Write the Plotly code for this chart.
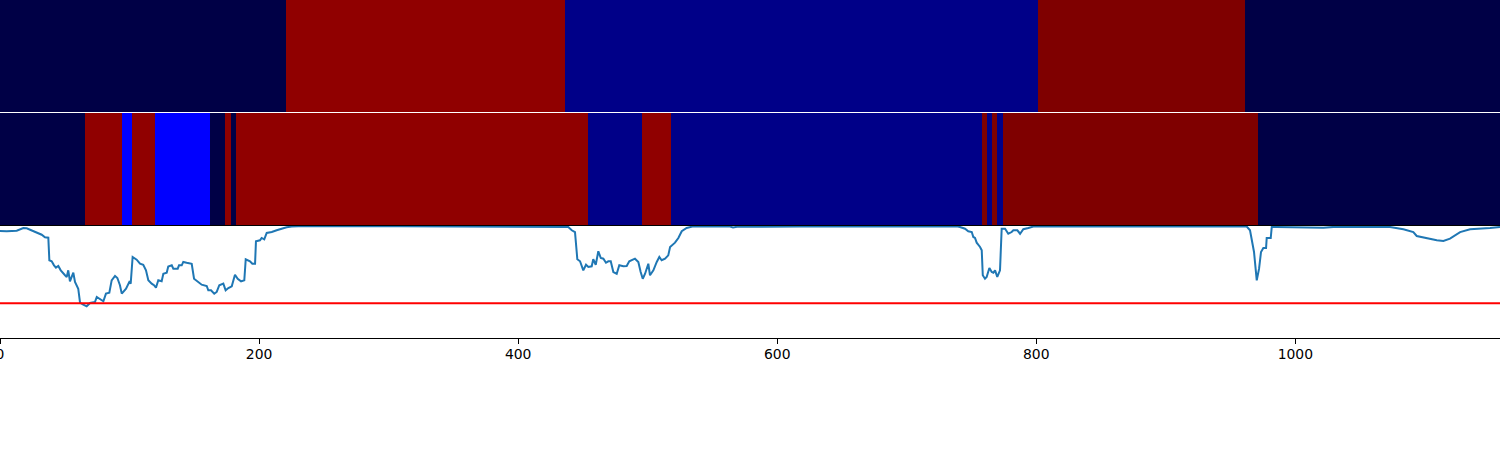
import plotly.graph_objects as go

# ---------------- data ----------------
# class colours (index -> colour)
class_colors = ["#000046", "#0000ff", "#000088", "#900000", "#7f0000"]
NAVY, BRIGHT, BLUE, RED, DRED = 0, 1, 2, 3, 4

# top band: segment edges and classes
top_edges = [0, 220.8, 436.3, 801.5, 961.4, 1158]
top_classes = [NAVY, RED, BLUE, DRED, NAVY]

# middle band: segment edges and classes
mid_edges = [0, 65.6, 94.2, 101.9, 119.7, 162.1, 173.7, 178.3, 182.2, 454.0,
             495.6, 518.0, 758.1, 762.0, 765.9, 769.7, 774.3, 971.2, 1158]
mid_classes = [NAVY, RED, BRIGHT, RED, BRIGHT, NAVY, RED, NAVY, RED, BLUE,
               RED, BLUE, DRED, BLUE, DRED, BLUE, DRED, NAVY]

# score line
line_x = [0, 5.2, 12.9, 18.0, 20.6, 25.7, 32.2, 34.7, 37.3, 38.1, 39.9, 41.7, 43.2,
          45.0, 46.9, 50.2, 51.5, 52.7, 54.0, 56.6, 57.9, 60.4, 61.8, 64.3, 66.9,
          69.5, 71.6, 73.3, 74.7, 77.2, 79.8, 81.8, 84.4, 86.2, 88.8, 90.6, 92.6,
          94.0, 97.3, 99.8, 100.9, 102.4, 105.5, 108.1, 110.6, 112.7, 114.5, 117.1,
          118.9, 120.4, 122.2, 124.8, 126.1, 128.7, 129.9, 132.6, 133.8, 137.2,
          138.2, 140.3, 141.5, 144.1, 148.0, 149.8, 153.1, 155.7, 159.6, 160.8,
          162.9, 165.4, 167.3, 169.3, 172.4, 174.2, 176.3, 178.9, 181.4, 183.5,
          186.1, 188.6, 189.7, 193.0, 194.8, 196.9, 197.6, 200.7, 202.0, 204.0,
          205.9, 209.8, 213.6, 217.5, 221.3, 225.2, 230.3, 308.8, 432.3, 438.7,
          441.4, 443.9, 445.7, 447.8, 450.3, 452.4, 454.2, 456.8, 458.0, 459.9,
          461.9, 463.8, 465.8, 467.8, 469.6, 471.5, 473.5, 476.1, 478.1, 481.2,
          483.8, 485.8, 490.2, 492.8, 494.6, 496.2, 498.0, 500.5, 501.8, 504.4,
          507.0, 509.0, 510.8, 513.4, 515.9, 517.3, 521.1, 523.7, 526.3, 530.1,
          535.2, 543.0, 563.6, 565.9, 569.0, 617.6, 725.7, 738.6, 741.1, 745.0,
          747.5, 750.2, 751.4, 752.7, 754.0, 756.6, 757.9, 758.7, 760.4, 761.7,
          763.8, 765.6, 766.9, 768.2, 769.9, 772.0, 773.3, 775.9, 778.4, 781.0,
          782.3, 785.4, 787.5, 790.0, 793.9, 797.7, 802.9, 849.2, 887.8, 926.4,
          962.5, 965.0, 966.3, 968.1, 970.2, 972.0, 973.5, 975.3, 977.4, 977.9,
          981.0, 981.8, 985.6, 1001.1, 1021.6, 1032.0, 1052.5, 1073.1, 1083.4,
          1091.1, 1093.7, 1098.8, 1104.0, 1109.2, 1114.3, 1119.4, 1127.2, 1134.9,
          1150.3, 1158]
line_y = [0.955, 0.953, 0.958, 0.982, 0.979, 0.953, 0.922, 0.899, 0.896, 0.694,
          0.685, 0.649, 0.628, 0.643, 0.604, 0.560, 0.545, 0.604, 0.506, 0.583,
          0.500, 0.440, 0.315, 0.297, 0.283, 0.313, 0.321, 0.321, 0.366, 0.346,
          0.328, 0.396, 0.404, 0.515, 0.554, 0.536, 0.471, 0.396, 0.440, 0.500,
          0.485, 0.723, 0.699, 0.663, 0.654, 0.604, 0.515, 0.485, 0.471, 0.449,
          0.515, 0.506, 0.574, 0.583, 0.638, 0.649, 0.619, 0.619, 0.649, 0.649,
          0.679, 0.672, 0.663, 0.529, 0.500, 0.476, 0.464, 0.426, 0.426, 0.396,
          0.411, 0.471, 0.485, 0.426, 0.446, 0.462, 0.565, 0.529, 0.506, 0.515,
          0.703, 0.685, 0.663, 0.663, 0.863, 0.872, 0.893, 0.881, 0.938, 0.946,
          0.962, 0.976, 0.988, 0.996, 0.997, 0.997, 0.995, 0.990, 0.962, 0.946,
          0.703, 0.685, 0.604, 0.654, 0.634, 0.640, 0.703, 0.654, 0.774, 0.714,
          0.708, 0.672, 0.685, 0.685, 0.589, 0.574, 0.649, 0.640, 0.643, 0.685,
          0.708, 0.679, 0.589, 0.529, 0.574, 0.663, 0.560, 0.604, 0.679, 0.723,
          0.694, 0.708, 0.738, 0.813, 0.851, 0.893, 0.953, 0.982, 0.997, 0.997,
          0.995, 0.987, 0.993, 0.995, 0.998, 0.998, 0.991, 0.976, 0.953, 0.946,
          0.902, 0.893, 0.851, 0.813, 0.783, 0.560, 0.529, 0.545, 0.625, 0.589,
          0.583, 0.604, 0.545, 0.604, 0.976, 0.976, 0.931, 0.946, 0.962, 0.962,
          0.931, 0.971, 0.982, 0.995, 0.998, 0.997, 0.997, 0.997, 0.995, 0.962,
          0.887, 0.768, 0.515, 0.619, 0.768, 0.804, 0.804, 0.893, 0.893, 0.991,
          0.991, 0.991, 0.985, 0.994, 0.995, 0.991, 0.971, 0.946, 0.911, 0.896,
          0.881, 0.872, 0.866, 0.887, 0.946, 0.971, 0.982, 0.991]

threshold = 0.31
x_range = [0, 1158]
x_ticks = [0, 200, 400, 600, 800, 1000]

# ---------------- figure ----------------
n = len(class_colors) - 1
colorscale = [[i / n, c] for i, c in enumerate(class_colors)]

fig = go.Figure()

fig.add_trace(go.Heatmap(z=[top_classes], x=top_edges, y=[0, 1],
                         colorscale=colorscale, zmin=0, zmax=n, showscale=False,
                         xaxis="x", yaxis="y3", hoverinfo="skip"))
fig.add_trace(go.Heatmap(z=[mid_classes], x=mid_edges, y=[0, 1],
                         colorscale=colorscale, zmin=0, zmax=n, showscale=False,
                         xaxis="x", yaxis="y2", hoverinfo="skip"))

fig.add_trace(go.Scatter(x=line_x, y=line_y, mode="lines",
                         line=dict(color="#1f77b4", width=2.0),
                         xaxis="x", yaxis="y", showlegend=False))
fig.add_trace(go.Scatter(x=x_range, y=[threshold, threshold], mode="lines",
                         line=dict(color="#ff0000", width=2.0),
                         xaxis="x", yaxis="y", showlegend=False))

H = 338.0
fig.update_layout(
    width=1500, height=450,
    margin=dict(l=0, r=0, t=0, b=112, pad=0, autoexpand=False),
    paper_bgcolor="white", plot_bgcolor="white",
    showlegend=False,
    font=dict(family="DejaVu Sans", size=13.9, color="black"),
    xaxis=dict(range=x_range, domain=[0, 1], anchor="y", automargin=False,
               tickmode="array", tickvals=x_ticks,
               ticks="outside", ticklen=5, tickwidth=1.1, tickcolor="black",
               showline=True, linecolor="black", linewidth=1.1, mirror=True,
               showgrid=False, zeroline=False, ticklabeloverflow="allow",
               ticklabelstandoff=-2,
               tickfont=dict(family="DejaVu Sans", size=13.9, color="black")),
    yaxis=dict(range=[0, 1], domain=[0, 112 / H], anchor="x", automargin=False,
               showline=True, linecolor="black", linewidth=1.6, mirror=True,
               showticklabels=False, ticks="", showgrid=False, zeroline=False),
    yaxis2=dict(range=[0, 1], domain=[(H - 225) / H, (H - 113) / H], anchor="x",
                automargin=False,
                showticklabels=False, ticks="", showgrid=False, zeroline=False,
                showline=False),
    yaxis3=dict(range=[0, 1], domain=[(H - 112) / H, 1], anchor="x",
                automargin=False,
                showticklabels=False, ticks="", showgrid=False, zeroline=False,
                showline=False),
)

fig.write_html("out.html", config={"displayModeBar": False},
               post_script="document.body.style.margin='0';document.body.style.padding='0';")
